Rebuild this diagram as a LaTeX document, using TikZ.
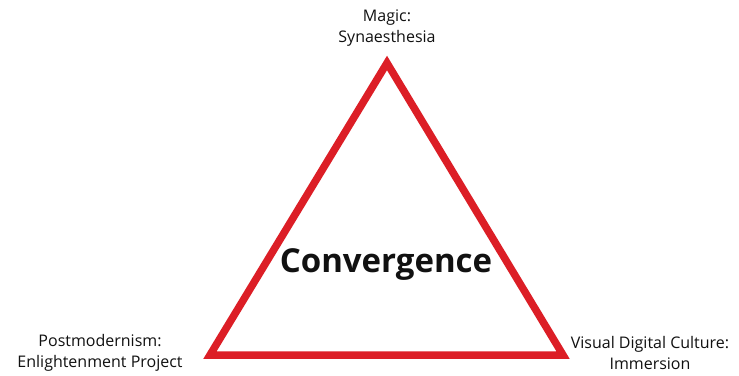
\documentclass[tikz,border=0pt]{standalone}
\usepackage{fontspec}
\setmainfont{Open Sans}
\usetikzlibrary{positioning}
\definecolor{trired}{HTML}{DC1E26}
\definecolor{ink}{HTML}{111111}
\tikzset{
edgeline/.style={draw=trired,line width=7.5pt,line join=miter},
corner/.style={font=\fontsize{16}{21}\selectfont,text=ink,align=center,inner sep=0pt},
centre/.style={font=\fontsize{33}{36}\selectfont\bfseries,text=ink,inner sep=0pt}}
\begin{document}
\begin{tikzpicture}[x=1pt,y=1pt]
\useasboundingbox[fill=white] (0,0) rectangle (739,375);
\coordinate (apex) at (387,312);
\coordinate (left) at (210,20);
\coordinate (right) at (563,20);
\draw[edgeline] (apex)--(left)--(right)--cycle;
\node[centre] (conv) at (386,110) {Convergence};
\node[corner] (magic) at (387,347) {Magic:\\Synaesthesia};
\node[corner] (post) at (100,22) {Postmodernism:\\Enlightenment Project};
\node[corner] (visual) at (650,22) {Visual Digital Culture:\\Immersion};
\end{tikzpicture}
\end{document}
